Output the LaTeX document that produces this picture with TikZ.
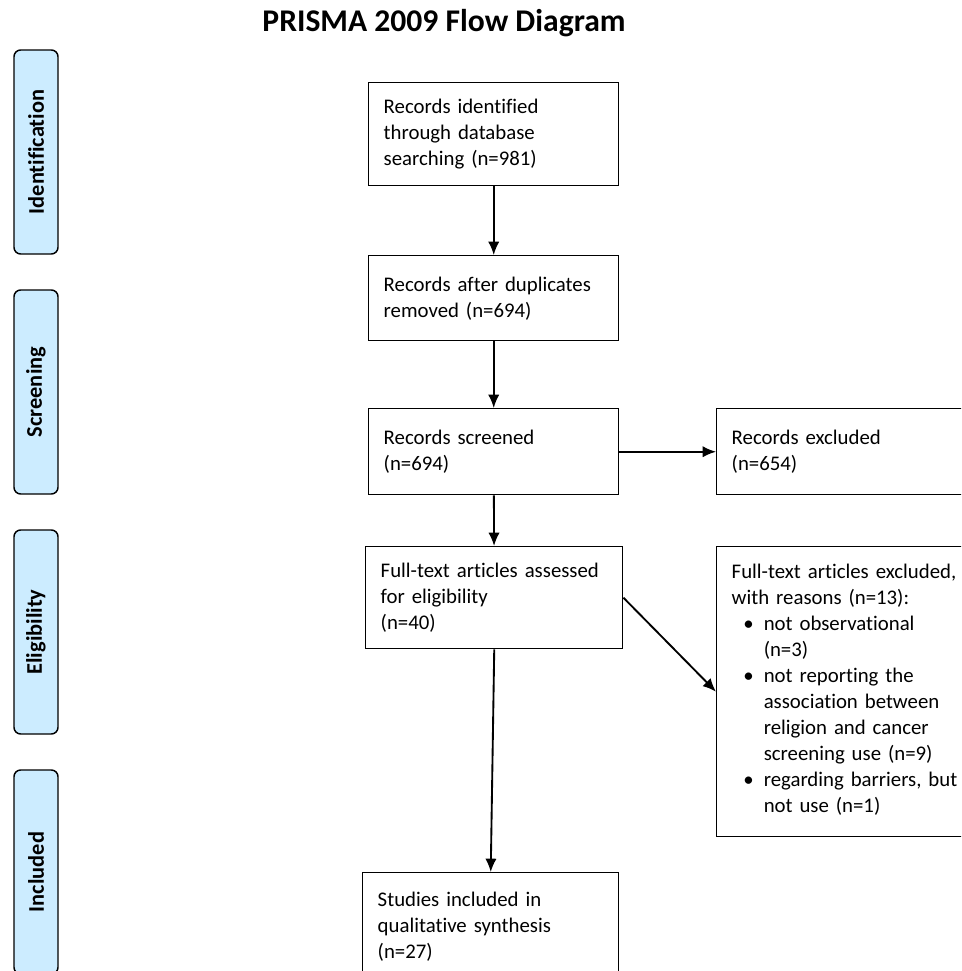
\documentclass[tikz,border=0pt]{standalone}
\usepackage{fontspec}
\setmainfont{Carlito}[Ligatures=NoCommon]
\usepackage{tikz}
\usetikzlibrary{
  arrows,
  arrows.meta
}
\usepackage{xcolor}

\definecolor{stageblue}{RGB}{204,236,255}
\newcommand{\boxfont}{\fontsize{15.6}{19.5}\selectfont}
\newcommand{\stagefont}{\fontsize{16.8}{20}\selectfont\bfseries}

\tikzset{
  flowbox/.style={draw, line width=1.1pt, anchor=north west, align=left,
    inner xsep=11.25pt, inner ysep=0pt, font=\boxfont},
  stagebox/.style={draw, line width=1.1pt, fill=stageblue, rounded corners=5pt,
    rotate=90, minimum width=153pt, minimum height=33pt, inner sep=0pt,
    font=\stagefont},
  flowarrow/.style={->, line width=1.4pt}
}

\begin{document}
\begin{tikzpicture}[x=0.75pt,y=-0.75pt,auto,>={Latex[length=10pt,width=8.5pt]}]
        \clip (0,0) rectangle (961,971);
        \node[font=\fontsize{23.7}{28}\selectfont\bfseries] (title) at (444,23) {PRISMA 2009 Flow Diagram};
        % stages
        \node[stagebox] (identification) at (36,152) {Identification};
        \node[stagebox] (screening) at (36,392) {Screening};
        \node[stagebox] (eligibility) at (36,632) {Eligibility};
        \node[stagebox] (included) at (36,872) {Included};
        % boxes
        \node[flowbox, text width=165pt, minimum height=77.25pt] (identified) at (368,82)
            {Records identified\\through database\\searching (n=981)};
        \node[flowbox, text width=165pt, minimum height=63.75pt] (duplicates) at (368,255)
            {Records after duplicates\\removed (n=694)};
        \node[flowbox, text width=165pt, minimum height=64.5pt] (screened) at (368,408)
            {Records screened\\(n=694)};
        \node[flowbox, text width=183pt, minimum height=64.5pt] (excluded) at (716,408)
            {Records excluded\\(n=654)};
        \node[flowbox, text width=170.25pt, minimum height=76.5pt] (assessed) at (365,546)
            {Full-text articles assessed\\for eligibility\\(n=40)};
        \node[flowbox, text width=183pt, minimum height=217.5pt] (reasons) at (716,546)
            {Full-text articles excluded,\\with reasons (n=13):\\
             \begin{tabular}[t]{@{\hspace{8.75pt}}l@{\hspace{7.5pt}}l}
               \textbullet & not observational\\
                           & (n=3)\\
               \textbullet & not reporting the\\
                           & association between\\
                           & religion and cancer\\
                           & screening use (n=9)\\
               \textbullet & regarding barriers, but\\
                           & not use (n=1)
             \end{tabular}};
        \node[flowbox, text width=169.5pt, minimum height=81pt] (studies) at (362,872)
            {Studies included in\\qualitative synthesis\\(n=27)};
        % arrows
        \draw[flowarrow] (identified) -- (duplicates);
        \draw[flowarrow] (duplicates) -- (screened);
        \draw[flowarrow] (screened) -- (excluded);
        \draw[flowarrow] (screened) -- (assessed);
        \draw[flowarrow] (assessed.east) -- (reasons.west);
        \draw[flowarrow] (assessed.south) -- (studies.north);
    \end{tikzpicture}
\end{document}
